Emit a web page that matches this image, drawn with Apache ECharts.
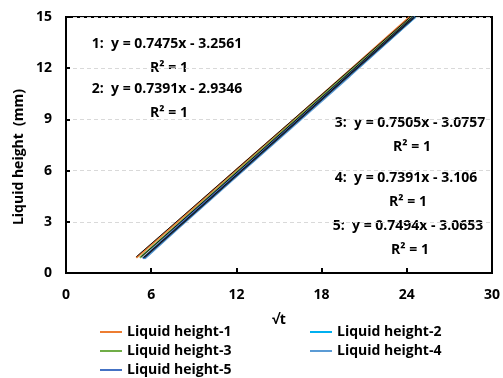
<!DOCTYPE html>
<html lang="en">
<head>
    <meta charset="UTF-8">
    <title>liquid height</title>
    <script src="https://cdn.jsdelivr.net/npm/echarts@6/dist/echarts.min.js"></script>
    <style>
        html, body { margin: 0; padding: 0; background: #fff; }
        #box { width: 503px; height: 378px; }
    </style>
</head>
<body>
    <div id="box"></div>
    <script>
        // series names and colours (Excel-like palette)
        var names = ['Liquid height-1', 'Liquid height-2', 'Liquid height-3', 'Liquid height-4', 'Liquid height-5'];
        var colors = ['#ED7D31', '#00B0F0', '#70AD47', '#5B9BD5', '#4472C4'];

        // [√t, height]
        var h1 = [[4.95, 0.9], [8, 3.1], [12, 6.05], [16, 8.95], [20, 11.9], [24.2, 15.0]];
        var h2 = [[5.5, 0.85], [8, 2.75], [12, 5.7], [16, 8.65], [20, 11.6], [24.6, 15.0]];
        var h3 = [[5.2, 0.9], [8, 2.95], [12, 5.9], [16, 8.85], [20, 11.8], [24.4, 15.0]];
        var h4 = [[5.55, 0.85], [8, 2.7], [12, 5.65], [16, 8.6], [20, 11.55], [24.6, 15.0]];
        var h5 = [[5.4, 0.85], [8, 2.85], [12, 5.8], [16, 8.75], [20, 11.7], [24.5, 15.0]];
        var data = [h1, h2, h3, h4, h5];

        // linear trendline endpoints (dark overlay)
        var trend = [
            [[4.95, 0.95], [24.25, 15.0]],
            [[5.5, 0.9], [24.55, 15.0]],
            [[5.3, 0.95], [24.4, 15.0]],
            [[5.55, 0.9], [24.6, 15.0]],
            [[5.45, 0.9], [24.5, 15.0]]
        ];

        var equations = [
            '1:  y = 0.7475x - 3.2561', '2:  y = 0.7391x - 2.9346',
            '3:  y = 0.7505x - 3.0757', '4:  y = 0.7391x - 3.106',
            '5:  y = 0.7494x - 3.0653'
        ];

        var xTicks = [0, 6, 12, 18, 24, 30];
        var yTicks = [0, 3, 6, 9, 12, 15];

        var font = '"Open Sans", "Noto Sans", sans-serif';
        var myChart = echarts.init(document.getElementById('box'));

        var series = [];
        for (var i = 0; i < 5; i++) {
            series.push({
                name: names[i],
                type: 'line',
                data: data[i],
                showSymbol: false,
                lineStyle: { width: 2, color: colors[i] },
                itemStyle: { color: colors[i] },
                z: 2
            });
        }
        for (var j = 0; j < 5; j++) {
            series.push({
                name: 'trend-' + (j + 1),
                type: 'line',
                data: trend[j],
                showSymbol: false,
                silent: true,
                lineStyle: { width: 1, color: j % 2 ? '#1a2a40' : '#111' },
                z: 3
            });
        }

        // equation / R² labels
        var eqPos = [[167, 44], [167, 89], [410, 123], [406, 178], [408, 226]];
        var graphics = [];
        for (var k = 0; k < 5; k++) {
            graphics.push({
                type: 'text', x: eqPos[k][0], y: eqPos[k][1],
                style: { text: equations[k], font: 'bold 14px ' + font, fill: '#000', align: 'center', verticalAlign: 'middle' }
            });
            graphics.push({
                type: 'text', x: eqPos[k][0] + 2, y: eqPos[k][1] + 24,
                style: { text: 'R² = 1', font: 'bold 14px ' + font, fill: '#000', align: 'center', verticalAlign: 'middle' }
            });
        }
        // y axis title (Excel puts it a bit below the plot centre)
        graphics.push({
            type: 'text', x: 19, y: 157, rotation: Math.PI / 2,
            style: { text: 'Liquid height  (mm)', font: 'bold 14px ' + font, fill: '#000', align: 'center', verticalAlign: 'middle' }
        });

        var legendText = { fontFamily: font, fontWeight: 'bold', fontSize: 14, color: '#000' };
        // one legend per entry, two columns
        var legPos = [[100, 325], [310, 325], [100, 344], [310, 344], [100, 363]];
        var legends = names.map(function (n, idx) {
            return {
                data: [n], left: legPos[idx][0], top: legPos[idx][1], padding: 0,
                itemWidth: 22, itemHeight: 14, itemGap: 0,
                icon: 'path://M0,6 L22,6 L22,8 L0,8 Z',
                textStyle: legendText
            };
        });

        var option = {
            backgroundColor: '#fff',
            animation: false,
            grid: { left: 66, right: 8, top: 17, bottom: 105, show: true, borderColor: '#000', borderWidth: 2 },
            legend: legends,
            xAxis: {
                type: 'value', min: xTicks[0], max: xTicks[xTicks.length - 1], interval: 6,
                name: '√t', nameLocation: 'middle', nameGap: 40,
                nameTextStyle: { fontFamily: font, fontWeight: 'bold', fontSize: 14, color: '#000' },
                axisLine: { show: true, lineStyle: { color: '#000', width: 2 } },
                axisTick: { show: true, inside: true, length: 5, lineStyle: { color: '#000', width: 2 } },
                axisLabel: { fontFamily: font, fontWeight: 'bold', fontSize: 14, color: '#000', margin: 15 },
                splitLine: { show: false }
            },
            yAxis: {
                type: 'value', min: yTicks[0], max: yTicks[yTicks.length - 1], interval: 3,
                axisLine: { show: true, lineStyle: { color: '#000', width: 2 } },
                axisTick: { show: true, inside: true, length: 4, lineStyle: { color: '#000', width: 2 } },
                axisLabel: { fontFamily: font, fontWeight: 'bold', fontSize: 14, color: '#000', margin: 14 },
                splitLine: { show: true, lineStyle: { color: '#d9d9d9', type: [4, 3], width: 1 } }
            },
            graphic: graphics,
            series: series
        };

        myChart.setOption(option);
    </script>
</body>
</html>
